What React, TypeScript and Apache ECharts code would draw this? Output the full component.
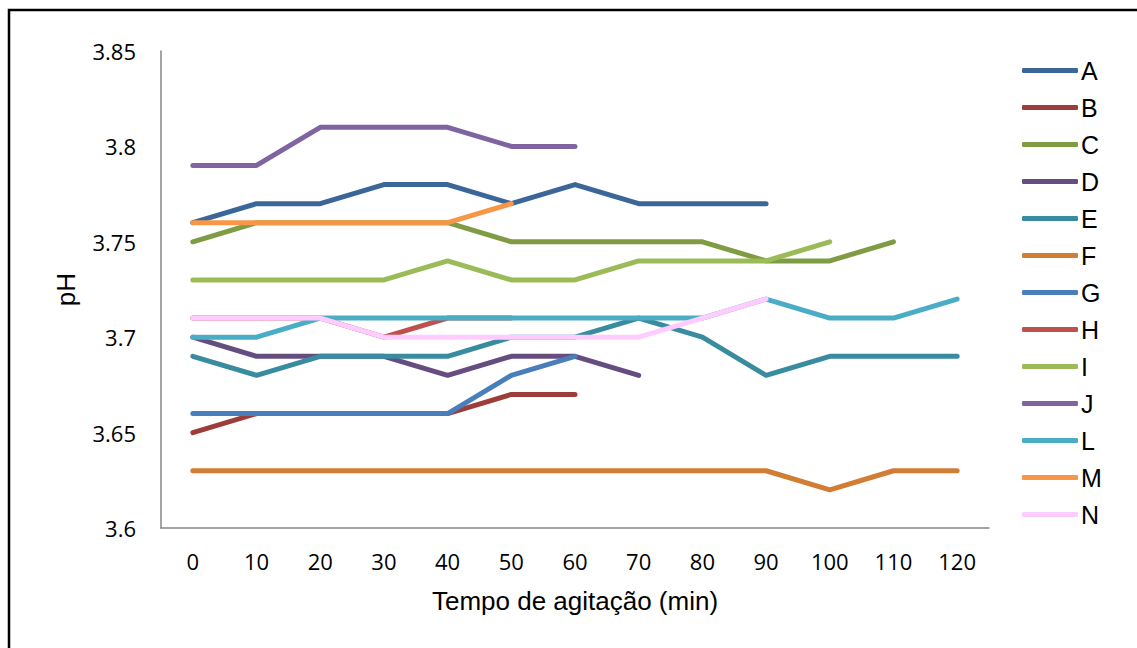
import React, { useEffect, useRef } from "react";
import * as echarts from "echarts";

const categories = ["0", "10", "20", "30", "40", "50", "60", "70", "80", "90", "100", "110", "120"];
const yTicks = { min: 3.6, max: 3.85, interval: 0.05 };

const seriesNames = ["A", "B", "C", "D", "E", "F", "G", "H", "I", "J", "L", "M", "N"];
const seriesColors = [
  "#3B6699", "#9C3D3A", "#7F9B43", "#654D80", "#398C9F", "#D27D36",
  "#4A7EBB", "#C0504D", "#9BBB59", "#8064A2", "#4BACC6", "#F79646", "#FFCCFF",
];

const A = [3.76, 3.77, 3.77, 3.78, 3.78, 3.77, 3.78, 3.77, 3.77, 3.77, null, null, null];
const B = [3.65, 3.66, 3.66, 3.66, 3.66, 3.67, 3.67, null, null, null, null, null, null];
const C = [3.75, 3.76, 3.76, 3.76, 3.76, 3.75, 3.75, 3.75, 3.75, 3.74, 3.74, 3.75, null];
const D = [3.70, 3.69, 3.69, 3.69, 3.68, 3.69, 3.69, 3.68, null, null, null, null, null];
const E = [3.69, 3.68, 3.69, 3.69, 3.69, 3.70, 3.70, 3.71, 3.70, 3.68, 3.69, 3.69, 3.69];
const F = [3.63, 3.63, 3.63, 3.63, 3.63, 3.63, 3.63, 3.63, 3.63, 3.63, 3.62, 3.63, 3.63];
const G = [3.66, 3.66, 3.66, 3.66, 3.66, 3.68, 3.69, null, null, null, null, null, null];
const H = [3.71, 3.71, 3.71, 3.70, 3.71, 3.71, null, null, null, null, null, null, null];
const I = [3.73, 3.73, 3.73, 3.73, 3.74, 3.73, 3.73, 3.74, 3.74, 3.74, 3.75, null, null];
const J = [3.79, 3.79, 3.81, 3.81, 3.81, 3.80, 3.80, null, null, null, null, null, null];
const L = [3.70, 3.70, 3.71, 3.71, 3.71, 3.71, 3.71, 3.71, 3.71, 3.72, 3.71, 3.71, 3.72];
const M = [3.76, 3.76, 3.76, 3.76, 3.76, 3.77, null, null, null, null, null, null, null];
const N = [3.71, 3.71, 3.71, 3.70, 3.70, 3.70, 3.70, 3.70, 3.71, 3.72, null, null, null];

const seriesData = [A, B, C, D, E, F, G, H, I, J, L, M, N];

export default function App() {
  const ref = useRef<HTMLDivElement>(null);
  useEffect(() => {
    if (!ref.current) return;
    const chart = echarts.init(ref.current, null, { renderer: "svg" });
    chart.setOption({
      animation: false,
      backgroundColor: "#ffffff",
      color: seriesColors,
      grid: { left: 161, top: 51, right: 148, bottom: 120, containLabel: false },
      graphic: [
        {
          type: "rect",
          shape: { x: 9, y: 10, width: 1200, height: 700 },
          style: { fill: "none", stroke: "#000", lineWidth: 2.5 },
          silent: true,
        },
      ],
      legend: {
        orient: "vertical",
        left: 1017,
        top: 53,
        itemWidth: 56,
        itemHeight: 5,
        itemGap: 12,
        icon: "roundRect",
        data: seriesNames,
        textStyle: {
          fontFamily: "Liberation Sans",
          fontSize: 25,
          color: "#000",
          lineHeight: 24,
          height: 24,
          padding: [0, 0, 0, -2],
        },
      },
      xAxis: {
        type: "category",
        data: categories,
        boundaryGap: true,
        name: "Tempo de agitação (min)",
        nameLocation: "middle",
        nameGap: 60,
        nameTextStyle: { fontFamily: "Liberation Sans", fontSize: 26, color: "#000" },
        axisLine: { lineStyle: { color: "#868686", width: 1.5 } },
        axisTick: { show: false },
        axisLabel: { fontFamily: "Open Sans", fontSize: 22, color: "#000", margin: 22 },
        splitLine: { show: false },
      },
      yAxis: {
        type: "value",
        min: yTicks.min,
        max: yTicks.max,
        interval: yTicks.interval,
        name: "pH",
        nameLocation: "middle",
        nameGap: 82,
        nameTextStyle: { fontFamily: "Liberation Sans", fontSize: 26, color: "#000" },
        axisLine: { show: true, lineStyle: { color: "#868686", width: 1.5 } },
        axisTick: { show: false },
        axisLabel: { fontFamily: "Open Sans", fontSize: 22, color: "#000", margin: 25 },
        splitLine: { show: false },
      },
      series: seriesNames.map((name, i) => ({
        name,
        type: "line",
        data: seriesData[i],
        showSymbol: false,
        symbol: "none",
        lineStyle: { width: 5, color: seriesColors[i], cap: "round", join: "round" },
        itemStyle: { color: seriesColors[i] },
      })),
    });
    return () => chart.dispose();
  }, []);
  return (
    <div
      ref={ref}
      style={{ position: "fixed", left: 0, top: 0, width: 1137, height: 648, background: "#fff" }}
    />
  );
}
